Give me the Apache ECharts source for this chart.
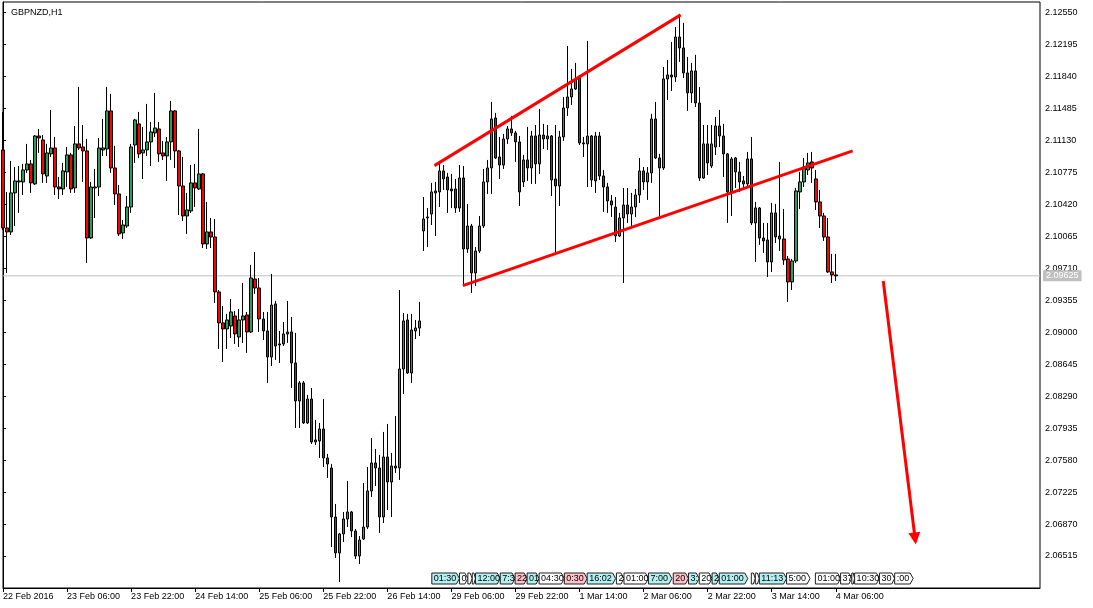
<!DOCTYPE html>
<html><head><meta charset="utf-8">
<script src="https://cdn.jsdelivr.net/npm/echarts@6/dist/echarts.min.js"></script>
<style>html,body{margin:0;padding:0;background:#fff}#c{width:1093px;height:608px}</style>
</head><body><div id="c"></div>
<script>
const chartTitle = 'GBPNZD,H1';
const xTickLabels = ['22 Feb 2016','23 Feb 06:00','23 Feb 22:00','24 Feb 14:00','25 Feb 06:00','25 Feb 22:00','26 Feb 14:00','29 Feb 06:00','29 Feb 22:00','1 Mar 14:00','2 Mar 06:00','2 Mar 22:00','3 Mar 14:00','4 Mar 06:00'];
const barsPerLabel = 16;
const slotCount = 260;
const open = [2.11022,2.10156,2.10112,2.10545,2.10667,2.10667,2.10800,2.10867,2.10645,2.11177,
2.11133,2.10733,2.10978,2.11044,2.10611,2.10589,2.10778,2.10967,2.10600,2.11089,
2.11055,2.11011,2.10045,2.10600,2.10611,2.11022,2.11033,2.11455,2.10822,2.10534,
2.10101,2.10178,2.10389,2.11077,2.11311,2.10989,2.11022,2.11111,2.11211,2.11255,
2.10989,2.10955,2.11111,2.11455,2.11011,2.10622,2.10289,2.10345,2.10656,2.10589,
2.10756,2.09979,2.10112,2.10056,2.09446,2.09102,2.09035,2.09068,2.09179,2.08946,
2.09135,2.09190,2.09002,2.09590,2.09490,2.09146,2.09013,2.08724,2.09313,2.08869,
2.08869,2.08980,2.09002,2.08658,2.08236,2.08436,2.07992,2.08258,2.07781,2.07792,
2.07925,2.07603,2.07492,2.06948,2.06549,2.06760,2.06926,2.07004,2.06793,2.06515,
2.06704,2.06837,2.07237,2.07548,2.07492,2.06948,2.07614,2.07337,2.07514,2.07492,
2.08591,2.09135,2.08547,2.09013,2.09046,2.10123,2.10267,2.10311,2.10545,2.10556,
2.10789,2.10722,2.10589,2.10589,2.10378,2.10711,2.09923,2.10178,2.09657,2.09901,
2.10178,2.10667,2.10822,2.11377,2.10944,2.10855,2.11144,2.11255,2.11211,2.11111,
2.10667,2.10911,2.10822,2.11177,2.10867,2.11188,2.11144,2.11177,2.10700,2.10622,
2.11166,2.11488,2.11610,2.11699,2.11832,2.11100,2.11089,2.11177,2.10678,2.11177,
2.10733,2.10611,2.10456,2.10389,2.10067,2.10267,2.10411,2.10311,2.10389,2.10522,
2.10789,2.10667,2.10767,2.11366,2.10933,2.10822,2.11810,2.11854,2.11832,2.12276,
2.12154,2.11877,2.11655,2.11899,2.11544,2.10711,2.11089,2.10844,2.11055,2.11288,
2.11177,2.10978,2.10556,2.10933,2.10778,2.10678,2.10645,2.10922,2.10212,2.10378,
2.10045,2.10023,2.09779,2.10323,2.10067,2.10034,2.09812,2.09557,2.09790,2.10556,
2.10667,2.10800,2.10889,2.10700,2.10445,2.10289,2.10056,2.09668,2.09635];
const high = [2.11444,2.10556,2.10900,2.10833,2.10844,2.10867,2.11089,2.10911,2.11188,2.11255,
2.11188,2.11089,2.11466,2.11166,2.10722,2.10878,2.11055,2.10989,2.11288,2.11721,
2.11299,2.11144,2.10667,2.10811,2.11155,2.11366,2.11721,2.11644,2.11067,2.10633,
2.10245,2.10511,2.11089,2.11366,2.11444,2.11277,2.11533,2.11333,2.11655,2.11333,
2.11122,2.11166,2.11566,2.11466,2.11022,2.10944,2.10545,2.10855,2.10867,2.11255,
2.10767,2.10445,2.10267,2.10256,2.09468,2.09290,2.09202,2.09368,2.09235,2.09257,
2.09546,2.09224,2.09746,2.09890,2.09601,2.09224,2.09224,2.09646,2.09346,2.09013,
2.09113,2.09346,2.09168,2.08991,2.08458,2.08458,2.08303,2.08380,2.08025,2.07992,
2.08258,2.07648,2.07537,2.07093,2.06771,2.07004,2.07348,2.07015,2.06815,2.06737,
2.07326,2.07503,2.07825,2.07703,2.07637,2.07892,2.07981,2.07659,2.08069,2.09468,
2.09213,2.09202,2.09202,2.09135,2.09335,2.10500,2.10378,2.10656,2.10667,2.10867,
2.10855,2.10767,2.10756,2.10700,2.10855,2.10844,2.10423,2.10201,2.09945,2.10289,
2.10811,2.10911,2.11555,2.11433,2.11166,2.11200,2.11288,2.11400,2.11233,2.11177,
2.10967,2.11277,2.11233,2.11299,2.11477,2.11311,2.11299,2.11188,2.11299,2.11233,
2.11610,2.12176,2.11921,2.11988,2.11854,2.11166,2.12232,2.11188,2.11222,2.11222,
2.10800,2.10656,2.10522,2.10500,2.10323,2.10600,2.10600,2.10545,2.10589,2.10933,
2.10833,2.10833,2.11422,2.11555,2.10978,2.11943,2.12021,2.12221,2.12387,2.12521,
2.12432,2.12054,2.11988,2.12077,2.11721,2.11299,2.11299,2.11299,2.11388,2.11466,
2.11311,2.10989,2.10944,2.10944,2.10889,2.10733,2.11000,2.11166,2.10445,2.10389,
2.10212,2.10212,2.10434,2.10423,2.10889,2.10367,2.09845,2.09812,2.10600,2.10778,
2.10933,2.10989,2.11000,2.10800,2.10578,2.10323,2.10267,2.09868,2.09868];
const low = [2.10134,2.09657,2.10078,2.10178,2.10323,2.10522,2.10767,2.10545,2.10633,2.10989,
2.10656,2.10656,2.10944,2.10522,2.10478,2.10522,2.10611,2.10545,2.10545,2.11022,
2.10667,2.09768,2.10034,2.10267,2.10511,2.10955,2.10955,2.10767,2.10411,2.10067,
2.10034,2.10156,2.10323,2.10878,2.10933,2.10700,2.10955,2.10844,2.11166,2.10889,
2.10911,2.10678,2.10911,2.10822,2.10300,2.10234,2.10090,2.10323,2.10389,2.10578,
2.09934,2.09923,2.09934,2.09324,2.08813,2.08669,2.08813,2.08935,2.08869,2.08835,
2.08880,2.08769,2.08991,2.09424,2.09002,2.08913,2.08436,2.08624,2.08691,2.08658,
2.08846,2.08880,2.08381,2.07936,2.07936,2.07981,2.07981,2.07759,2.07748,2.07603,
2.07503,2.07381,2.06615,2.06493,2.06227,2.06671,2.06837,2.06726,2.06482,2.06427,
2.06693,2.06815,2.07170,2.07292,2.06771,2.06882,2.07026,2.06948,2.07437,2.07359,
2.08313,2.08536,2.08436,2.08924,2.08957,2.09901,2.09945,2.10189,2.10067,2.10389,
2.10578,2.10323,2.10378,2.10323,2.10334,2.09512,2.09879,2.09435,2.09512,2.09879,
2.10156,2.10534,2.10534,2.10922,2.10700,2.10811,2.11089,2.11177,2.10889,2.10400,
2.10611,2.10678,2.10645,2.10645,2.10756,2.11033,2.11022,2.10511,2.09857,2.10400,
2.11122,2.11400,2.11521,2.11688,2.11077,2.10944,2.10611,2.10611,2.10545,2.10689,
2.10334,2.10323,2.10278,2.10001,2.10056,2.09546,2.10212,2.10178,2.10278,2.10434,
2.10578,2.10467,2.10656,2.10922,2.10289,2.10800,2.11577,2.11677,2.11777,2.11999,
2.11821,2.11455,2.11544,2.11499,2.10678,2.10700,2.10744,2.10822,2.10966,2.11055,
2.10722,2.10212,2.10289,2.10600,2.10556,2.10578,2.10611,2.10189,2.09779,2.09968,
2.09879,2.09612,2.09668,2.09990,2.09901,2.09746,2.09335,2.09468,2.09768,2.10367,
2.10611,2.10744,2.10656,2.10356,2.10156,2.10012,2.09657,2.09546,2.09568];
const close = [2.10156,2.10112,2.10545,2.10678,2.10678,2.10800,2.10867,2.10656,2.11177,2.11155,
2.10756,2.10989,2.11044,2.10611,2.10589,2.10789,2.10967,2.10589,2.11089,2.11044,
2.11011,2.10045,2.10611,2.10611,2.11044,2.11044,2.11455,2.10822,2.10534,2.10090,
2.10189,2.10389,2.11055,2.11355,2.10978,2.11022,2.11111,2.11222,2.11266,2.10978,
2.10955,2.11111,2.11455,2.11011,2.10622,2.10289,2.10356,2.10656,2.10600,2.10756,
2.09979,2.10112,2.10056,2.09446,2.09102,2.09035,2.09135,2.09224,2.08980,2.09135,
2.09179,2.09002,2.09601,2.09490,2.09146,2.09013,2.08724,2.09301,2.08846,2.08857,
2.08980,2.09002,2.08658,2.08236,2.08436,2.07992,2.08258,2.07781,2.07803,2.07925,
2.07603,2.07537,2.06948,2.06549,2.06760,2.06926,2.07004,2.06793,2.06515,2.06693,
2.06837,2.07237,2.07548,2.07492,2.06948,2.07614,2.07337,2.07514,2.07492,2.08591,
2.09124,2.08547,2.09024,2.09046,2.09124,2.10256,2.10278,2.10556,2.10567,2.10789,
2.10700,2.10578,2.10567,2.10378,2.10711,2.09923,2.10178,2.09657,2.09901,2.10178,
2.10667,2.10822,2.11366,2.10933,2.10855,2.11144,2.11255,2.11211,2.11111,2.10556,
2.10911,2.10822,2.11177,2.10867,2.11188,2.11144,2.11177,2.10689,2.10622,2.11166,
2.11488,2.11610,2.11699,2.11799,2.11100,2.11089,2.11177,2.10689,2.11177,2.10733,
2.10611,2.10456,2.10411,2.10067,2.10267,2.10411,2.10311,2.10389,2.10522,2.10789,
2.10667,2.10767,2.11366,2.10933,2.10822,2.11810,2.11854,2.11832,2.12276,2.12154,
2.11877,2.11655,2.11899,2.11544,2.10711,2.11089,2.10878,2.11089,2.11288,2.11177,
2.10978,2.10556,2.10922,2.10778,2.10667,2.10645,2.10922,2.10212,2.10378,2.10045,
2.10012,2.09779,2.10323,2.10056,2.10034,2.09801,2.09557,2.09790,2.10567,2.10667,
2.10833,2.10878,2.10822,2.10445,2.10289,2.10056,2.09668,2.09635,2.09625];
const lastPrice = 2.09625;
const yTickStart = 2.0616, yTickStep = 0.00355, yTop = 2.12664;
// trend annotations: [barPosition, price]
const upperTrend = [[107.75, 2.10848], [169.25, 2.12521]];
const lowerTrend = [[114.85, 2.09516], [212.2, 2.11011]];
const forecastArrow = [[219.85, 2.09568], [227.8, 2.0671]];
// calendar event flags: [barPosition, text, kind]
const events = [
 [107.1,'01:30','c'],[114.0,'0','w'],[116.1,'','w'],[117.2,'','w'],[118.0,'12:00','c'],
 [124.2,'7:3','c'],[127.9,'22','p'],[130.9,'01','c'],[133.9,'04:30','w'],[140.2,'0:30','p'],
 [145.9,'16:02','c'],[153.2,'2','w'],[155.1,'01:00','w'],[161.2,'7:00','c'],[167.4,'20','p'],
 [171.2,'3:','c'],[173.9,'20','w'],[177.1,'2','c'],[178.9,'01:00','c'],[186.9,'','w'],
 [187.9,'','w'],[188.9,'11:13','c'],[195.7,'5:00','w'],[202.9,'01:00','w'],[209.2,'37','w'],
 [212.0,'','w'],[212.7,'10:30','w'],[218.9,'30','w'],[222.7,':00','w']
];

const FONT = 'Liberation Sans';
const kindFill = {c:'#b4f0f0', p:'#ffc0c8', w:'#ffffff'};
const cats = Array.from({length: slotCount}, (_, i) => String(i));
const ohlc = open.map((o, i) => [o, close[i], low[i], high[i]]);
const showLbl = (i) => i % barsPerLabel === 0 && (i / barsPerLabel) < xTickLabels.length;
function textW(s){let w=0;for(const ch of s){w+= (ch===':')?2.5:5;}return w;}

const chart = echarts.init(document.getElementById('c'), null, {renderer:'canvas'});
chart.setOption({
  animation:false,
  backgroundColor:'#ffffff',
  title:{text:chartTitle,left:6,top:3,textStyle:{fontSize:9,fontWeight:'normal',color:'#000',fontFamily:FONT}},
  grid:{left:2,right:53,top:2,bottom:20,show:true,borderColor:'#000',borderWidth:1,backgroundColor:'#fff'},
  xAxis:[{
    type:'category',data:cats,boundaryGap:false,
    axisLine:{show:true,lineStyle:{color:'#000',width:1}},
    axisTick:{show:true,length:4,interval:(i)=>showLbl(i),lineStyle:{color:'#000'}},
    axisLabel:{interval:(i)=>showLbl(i),formatter:(v,i)=>xTickLabels[i/barsPerLabel]||'',align:'left',margin:4,fontSize:9,color:'#000',fontFamily:FONT},
    splitLine:{show:false}
  },{
    type:'value',min:0,max:slotCount-1,show:false
  }],
  yAxis:{
    type:'value',position:'right',min:yTickStart,max:yTop,interval:yTickStep,
    axisLine:{show:true,lineStyle:{color:'#000',width:1}},
    axisTick:{show:true,length:3,lineStyle:{color:'#000'}},
    axisLabel:{formatter:(v)=>v.toFixed(5),showMinLabel:false,showMaxLabel:false,margin:5,fontSize:9,color:'#000',fontFamily:FONT},
    splitLine:{show:false}
  },
  series:[
    {
      type:'line',xAxisIndex:1,yAxisIndex:0,z:1,silent:true,symbol:'none',showSymbol:false,
      data:[[0,lastPrice],[slotCount-1,lastPrice]],
      lineStyle:{color:'#c0c0c0',width:1},
      endLabel:{show:true,formatter:()=>lastPrice.toFixed(5),backgroundColor:'#c0c0c0',color:'#ffffff',fontSize:9,fontFamily:FONT,padding:[1,3,1,3],distance:3}
    },
    {
      type:'candlestick',data:ohlc,barWidth:3,xAxisIndex:0,
      itemStyle:{color:'#2e9b5b',color0:'#ff0000',borderColor:'#000',borderColor0:'#000',borderColorDoji:'#000',borderWidth:1},
      z:2
    },
    {
      type:'lines',coordinateSystem:'cartesian2d',xAxisIndex:1,yAxisIndex:0,z:5,silent:true,
      lineStyle:{color:'#ff0000',width:3,opacity:1},
      data:[{coords:upperTrend},{coords:lowerTrend}]
    },
    {
      type:'lines',coordinateSystem:'cartesian2d',xAxisIndex:1,yAxisIndex:0,z:5,silent:true,
      symbol:['none','triangle'],symbolSize:12,
      lineStyle:{color:'#ff0000',width:3,opacity:1},
      data:[{coords:forecastArrow}]
    },
    {
      type:'custom',xAxisIndex:1,yAxisIndex:0,z:4,silent:true,clip:false,
      data:events.map(e=>[e[0]]),
      renderItem:(params,api)=>{
        const i=params.dataIndex, e=events[i];
        const cs=params.coordSys;
        const bottom=cs.y+cs.height-4, top=bottom-11, mid=(top+bottom)/2;
        const x0=api.coord([e[0],yTickStart])[0];
        let w=textW(e[1])+6;
        if(i+1<events.length){const xn=api.coord([events[i+1][0],yTickStart])[0];w=Math.min(w,xn-x0);}
        const x1=x0+Math.max(w,2);
        const tip=Math.min(3,(x1-x0)/2);
        return {type:'group',children:[
          {type:'polygon',shape:{points:[[x0,top],[x1-tip,top],[x1,mid],[x1-tip,bottom],[x0,bottom]]},
           style:{fill:kindFill[e[2]],stroke:'#202020',lineWidth:1}},
          {type:'text',style:{text:e[1],x:x0+2,y:mid,verticalAlign:'middle',align:'left',fill:'#000',font:'9px '+FONT}}
        ]};
      }
    }
  ]
});
</script></body></html>
